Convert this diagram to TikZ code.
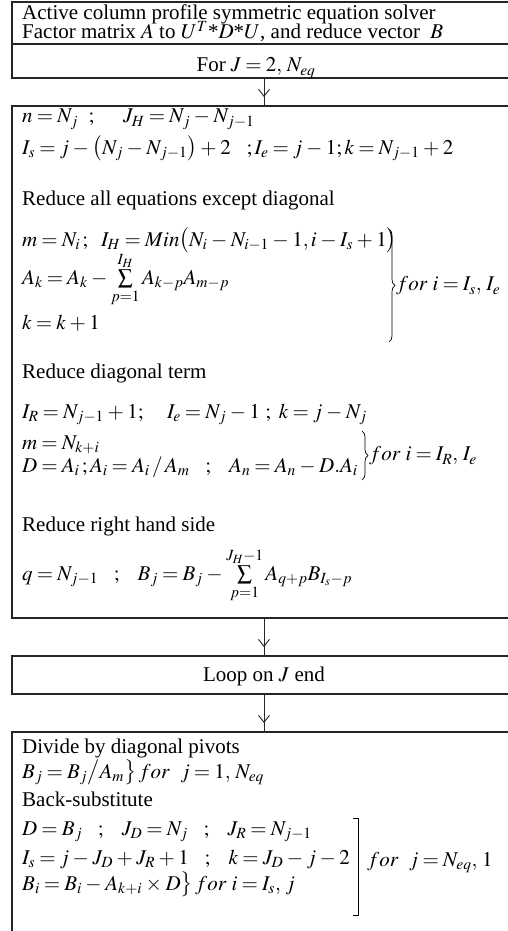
\documentclass[tikz,border=0pt]{standalone}
\usepackage{mathptmx}
\usepackage[no-math]{fontspec}
\setmainfont{Liberation Serif}
\usetikzlibrary{arrows.meta,decorations.pathreplacing,decorations.markings}
\thickmuskip=3.5mu plus 1mu
\medmuskip=3mu plus 1mu
\begin{document}
\begin{tikzpicture}[x=1pt,y=-1pt,
  font=\fontsize{21}{24}\selectfont,
  area/.style={rectangle,draw=none,inner sep=0pt,outer sep=0pt,minimum width=496pt},
  boxline/.style={draw=black!85,line width=1.1pt},
  txt/.style={anchor=base west,inner sep=0pt},
  ctxt/.style={anchor=base,inner sep=0pt},
  flow/.style={draw=black!85,line width=0.9pt,postaction={decorate},
    decoration={markings,mark=at position -9pt with {\arrow{Straight Barb[length=7pt,width=11pt,line width=0.9pt]}}}},
  curly/.style={draw=black,line width=0.7pt,decorate,decoration={brace,amplitude=6pt}},
  lbl/.style={anchor=west,inner sep=0pt}
]
\useasboundingbox (0,0) rectangle (508,931);
\fill[white] (0,0) rectangle (508,931);

% boxes
\node[area,minimum height=42pt] (titlebox) at (260,23) {};
\node[area,minimum height=34pt] (forbox) at (260,61) {};
\node[area,minimum height=512pt] (mainbox) at (260,362) {};
\node[area,minimum height=38pt] (loopbox) at (260,675) {};
\node[area,minimum height=199pt] (lastbox) at (260,831.5) {};

\draw[boxline] (titlebox.north east) -- (titlebox.north west) -- (forbox.south west) -- (forbox.south east);
\draw[boxline] (titlebox.south west) -- (titlebox.south east);
\draw[boxline] (mainbox.north east) -- (mainbox.north west) -- (mainbox.south west) -- (mainbox.south east);
\draw[boxline] (loopbox.north east) -- (loopbox.north west) -- (loopbox.south west) -- (loopbox.south east);
\draw[boxline] (lastbox.north east) -- (lastbox.north west) -- (lastbox.south west);

% connectors
\draw[flow] ([xshift=4pt]forbox.south) -- ([xshift=4pt]mainbox.north);
\draw[flow] ([xshift=4pt]mainbox.south) -- ([xshift=4pt]loopbox.north);
\draw[flow] ([xshift=4pt]loopbox.south) -- ([xshift=4pt]lastbox.north);

% title
\node[txt] (t1) at (22,20) {Active column profile symmetric equation solver};
\node[txt] (t2) at (22,39) {Factor matrix $A$ to $U^T$*$D$*$U$, and reduce vector\ \ $B$};
\node[ctxt] (forj) at (256,72) {For $J = 2,\, N_{eq}$};

% main box
\node[txt] (ln) at (22,123) {$n = N_j\ \ ;\quad\ J_H = N_j - N_{j-1}$};
\node[txt] (lis) at (22,154) {$I_s = j - \bigl(N_j - N_{j-1}\bigr) + 2\ \ \ ;I_e = j - 1; k = N_{j-1} + 2$};
\node[txt] (ra) at (22,205) {Reduce all equations except diagonal};
\node[txt] (lm) at (22,246) {$m = N_i\,;\ \ I_H = Min\bigl(N_i - N_{i-1} - 1, i - I_s + 1\bigr)$};
\node[txt] (la) at (22,284) {$A_k = A_k - \sum\limits_{p=1}^{I_H} A_{k-p}A_{m-p}$};
\node[txt] (lk) at (22,329) {$k = k + 1$};
\coordinate (b1t) at (389,229);
\coordinate (b1b) at (389,342);
\draw[curly] (b1t) -- (b1b);
\node[lbl] (f1) at (396,286) {$for\ i = I_s,\, I_e$};

\node[txt] (rd) at (22,378) {Reduce diagonal term};
\node[txt] (lir) at (22,418) {$I_R = N_{j-1} + 1;\quad I_e = N_j - 1\ ;\ k = j - N_j$};
\node[txt] (lm2) at (22,449) {$m = N_{k+i}$};
\node[txt] (ld) at (22,472) {$D = A_i\,; A_i = A_i \,/\, A_m\ \ \ ;\ \ \ A_n = A_n - D.A_i$};
\coordinate (b2t) at (362,431);
\coordinate (b2b) at (362,480);
\draw[curly] (b2t) -- (b2b);
\node[lbl] (f2) at (369,456) {$for\ i = I_R,\, I_e$};

\node[txt] (rr) at (22,531) {Reduce right hand side};
\node[txt] (lq) at (22,580) {$q = N_{j-1}\ \ \ ;\ \ \ B_j = B_j - \sum\limits_{p=1}^{J_H-1} A_{q+p}B_{I_s-p}$};

% loop
\node[ctxt] (loopt) at (264,681) {Loop on $J$ end};

% last box
\node[txt] (dv) at (22,753) {Divide by diagonal pivots};
\node[txt] (lbj) at (22,778) {$B_j = B_j \big/ A_m\bigr\}\, for\ \ j = 1,\, N_{eq}$};
\node[txt] (bs) at (22,806) {Back-substitute};
\node[txt] (ld2) at (22,835) {$D = B_j\ \ \ ;\ \ \ J_D = N_j\ \ \ ;\ \ \ J_R = N_{j-1}$};
\node[txt] (lis2) at (22,864) {$I_s = j - J_D + J_R + 1\ \ \ ;\ \ \ k = J_D - j - 2$};
\node[txt] (lbi) at (22,890) {$B_i = B_i - A_{k+i}\times D\bigr\}\, for\ i = I_s,\, j$};
\coordinate (k1) at (353,818);
\coordinate (k2) at (358,818);
\coordinate (k3) at (358,915);
\coordinate (k4) at (353,915);
\draw[draw=black,line width=0.8pt] (k1) -- (k2) -- (k3) -- (k4);
\node[txt] (f3) at (367,866) {$for\ \ j = N_{eq},\, 1$};
\end{tikzpicture}
\end{document}
